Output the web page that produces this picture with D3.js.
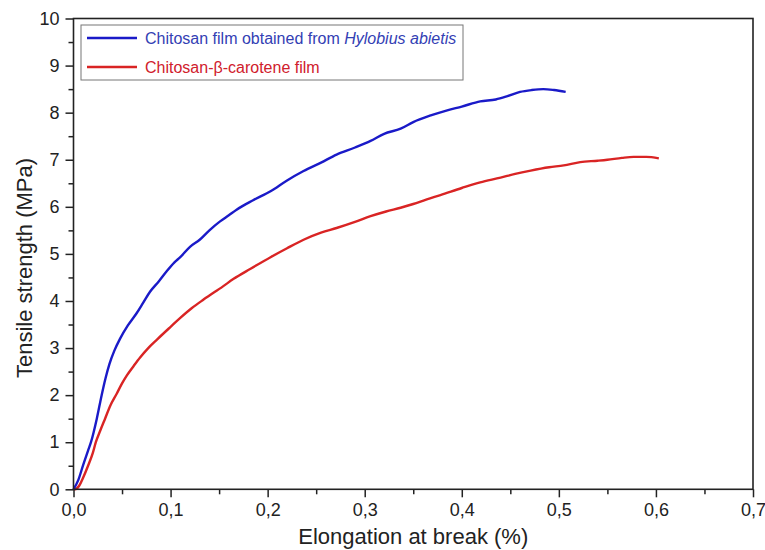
<!DOCTYPE html>
<html>
<head>
<meta charset="utf-8">
<script src="https://cdn.jsdelivr.net/npm/d3@7"></script>
<style>
  body { margin: 0; background: #fff; }
  svg text { font-family: "Liberation Sans", Arial, sans-serif; }
</style>
</head>
<body>
<div id="chart"></div>
<script>
// series labels
var seriesNames = ["Chitosan film obtained from ", "Chitosan-\u03b2-carotene film"];

// chitosan film (Hylobius abietis) - elongation (%) / tensile strength (MPa)
var elongHylobius = [0, 0.005, 0.01, 0.015, 0.018, 0.024, 0.029, 0.033, 0.037, 0.042, 0.048, 0.056, 0.065, 0.072,
  0.079, 0.088, 0.096, 0.104, 0.11, 0.12, 0.13, 0.14, 0.151, 0.16, 0.168, 0.185, 0.203, 0.22, 0.237,
  0.255, 0.271, 0.29, 0.306, 0.32, 0.337, 0.35, 0.368, 0.385, 0.40, 0.419, 0.435, 0.447, 0.46, 0.472,
  0.484, 0.495, 0.507];
var strengthHylobius = [0, 0.2, 0.52, 0.82, 1.0, 1.5, 2.0, 2.36, 2.66, 2.94, 3.2, 3.48, 3.74, 3.97,
  4.2, 4.42, 4.63, 4.82, 4.93, 5.15, 5.3, 5.5, 5.69, 5.82, 5.94, 6.14, 6.33, 6.56, 6.76,
  6.94, 7.11, 7.26, 7.4, 7.55, 7.66, 7.8, 7.94, 8.05, 8.13, 8.24, 8.28, 8.35, 8.44, 8.48,
  8.5, 8.48, 8.44];

// chitosan-beta-carotene film
var elongCarotene = [0, 0.0015, 0.006, 0.01, 0.015, 0.02, 0.023, 0.028, 0.0325, 0.038, 0.0445, 0.05, 0.055, 0.062,
  0.0686, 0.077, 0.086, 0.1, 0.11, 0.122, 0.134, 0.154, 0.165, 0.182, 0.203, 0.22, 0.237, 0.255,
  0.271, 0.29, 0.306, 0.322, 0.337, 0.35, 0.364, 0.378, 0.40, 0.419, 0.44, 0.455, 0.471, 0.49,
  0.505, 0.522, 0.54, 0.55, 0.565, 0.577, 0.59, 0.603];
var strengthCarotene = [0, 0, 0.08, 0.25, 0.5, 0.78, 1.0, 1.27, 1.5, 1.78, 2.03, 2.25, 2.42, 2.62,
  2.8, 3.0, 3.18, 3.45, 3.64, 3.85, 4.03, 4.31, 4.47, 4.68, 4.93, 5.12, 5.3, 5.45,
  5.55, 5.68, 5.8, 5.9, 5.98, 6.06, 6.16, 6.25, 6.4, 6.52, 6.62, 6.7, 6.77, 6.84,
  6.88, 6.95, 6.98, 7.0, 7.04, 7.06, 7.06, 7.03];

// ticks
var xTicks = [0, 0.1, 0.2, 0.3, 0.4, 0.5, 0.6, 0.7];
var xMinor = [0.05, 0.15, 0.25, 0.35, 0.45, 0.55, 0.65];
var yTicks = [0, 1, 2, 3, 4, 5, 6, 7, 8, 9, 10];
var yMinor = [0.5, 1.5, 2.5, 3.5, 4.5, 5.5, 6.5, 7.5, 8.5, 9.5];

var width = 765, height = 550;
var plotLeft = 73.5, plotRight = 753, plotTop = 18.5, plotBottom = 489.3;

var svg = d3.select("#chart").append("svg")
  .attr("width", width)
  .attr("height", height);

var x = d3.scaleLinear().domain([0, 0.7]).range([plotLeft, plotRight]);
var y = d3.scaleLinear().domain([0, 10]).range([plotBottom, plotTop]);

var fmt = function(d) { return d3.format(".1f")(d).replace(".", ","); };

// curves
var line = d3.line()
  .x(function(d) { return x(d[0]); })
  .y(function(d) { return y(d[1]); })
  .curve(d3.curveMonotoneX);

var blueData = d3.zip(elongHylobius, strengthHylobius);
var redData = d3.zip(elongCarotene, strengthCarotene);

svg.append("path").datum(redData)
  .attr("fill", "none").attr("stroke", "#d92424").attr("stroke-width", 2.4)
  .attr("d", line);
svg.append("path").datum(blueData)
  .attr("fill", "none").attr("stroke", "#1a1ac8").attr("stroke-width", 2.4)
  .attr("d", line);

// axes (ticks outward, left & bottom)
svg.append("g")
  .attr("transform", "translate(0," + plotBottom + ")")
  .call(d3.axisBottom(x).tickValues(xTicks).tickFormat(fmt).tickSizeInner(8).tickSizeOuter(0).tickPadding(6));

svg.append("g")
  .attr("transform", "translate(0," + plotBottom + ")")
  .call(d3.axisBottom(x).tickValues(xMinor).tickFormat("").tickSizeInner(5).tickSizeOuter(0));

svg.append("g")
  .attr("transform", "translate(" + plotLeft + ",0)")
  .call(d3.axisLeft(y).tickValues(yTicks).tickSizeInner(8).tickSizeOuter(0).tickPadding(6));

svg.append("g")
  .attr("transform", "translate(" + plotLeft + ",0)")
  .call(d3.axisLeft(y).tickValues(yMinor).tickFormat("").tickSizeInner(5).tickSizeOuter(0));

svg.selectAll(".tick text")
  .attr("font-size", 18).attr("font-family", "'Liberation Sans', Arial, sans-serif").attr("fill", "#222");
svg.selectAll(".tick line").attr("stroke", "#222").attr("stroke-width", 1.5);
svg.selectAll(".domain").remove();

// frame
svg.append("rect")
  .attr("x", plotLeft).attr("y", plotTop)
  .attr("width", plotRight - plotLeft).attr("height", plotBottom - plotTop)
  .attr("fill", "none").attr("stroke", "#222").attr("stroke-width", 1.6);

// axis titles
svg.append("text")
  .attr("x", (plotLeft + plotRight) / 2).attr("y", 544)
  .attr("text-anchor", "middle")
  .attr("font-size", 22).attr("fill", "#222")
  .text("Elongation at break (%)");

svg.append("text")
  .attr("transform", "translate(32,268) rotate(-90)")
  .attr("text-anchor", "middle")
  .attr("font-size", 22).attr("fill", "#222")
  .text("Tensile strength (MPa)");

// legend
var legend = svg.append("g");
legend.append("rect")
  .attr("x", 81).attr("y", 25).attr("width", 382).attr("height", 55)
  .attr("fill", "#fff").attr("stroke", "#777").attr("stroke-width", 1);

legend.append("line").attr("x1", 87).attr("x2", 137).attr("y1", 38).attr("y2", 38)
  .attr("stroke", "#1a1ac8").attr("stroke-width", 2.4);
legend.append("line").attr("x1", 87).attr("x2", 137).attr("y1", 67).attr("y2", 67)
  .attr("stroke", "#d92424").attr("stroke-width", 2.4);

var t1 = legend.append("text").attr("x", 145).attr("y", 43.5)
  .attr("font-size", 16).attr("fill", "#3340b4");
t1.append("tspan").text(seriesNames[0]);
t1.append("tspan").attr("font-style", "italic").text("Hylobius abietis");

legend.append("text").attr("x", 145).attr("y", 72.5)
  .attr("font-size", 16).attr("fill", "#d0202c")
  .text(seriesNames[1]);
</script>
</body>
</html>
